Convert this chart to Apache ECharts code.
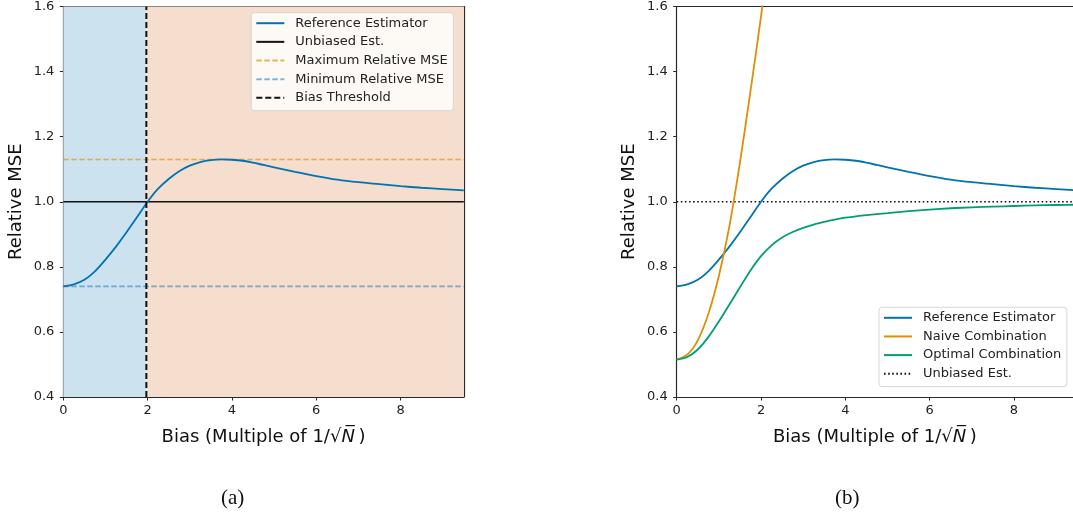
<!DOCTYPE html>
<html><head><meta charset="utf-8">
<script src="https://cdn.jsdelivr.net/npm/echarts@6/dist/echarts.min.js"></script>
<style>html,body{margin:0;padding:0;background:#fff}#c{width:1073px;height:516px}</style>
</head><body><div id="c"></div>
<script>
// ---- data ----
const biasX = [0,0.25,0.5,0.75,1,1.25,1.5,1.75,2,2.25,2.5,2.75,3,3.25,3.5,3.75,4,4.25,4.5,4.75,5,5.5,6,6.5,7,7.5,8,8.5,9,9.5];
const referenceMSE = [0.740,0.746,0.760,0.786,0.822,0.862,0.906,0.953,1.000,1.040,1.070,1.094,1.111,1.122,1.128,1.130,1.129,1.126,1.120,1.113,1.106,1.092,1.079,1.068,1.060,1.054,1.048,1.043,1.039,1.035];
const optimalMSE = [0.515,0.523,0.546,0.584,0.632,0.684,0.737,0.789,0.833,0.866,0.890,0.907,0.920,0.930,0.938,0.945,0.951,0.955,0.959,0.962,0.965,0.971,0.976,0.980,0.983,0.985,0.987,0.989,0.990,0.991];
const naiveX = [0,0.25,0.5,0.75,1,1.25,1.5,1.75,2,2.25];
const naiveMSE = [0.515,0.530,0.574,0.655,0.772,0.925,1.120,1.340,1.570,1.830];
const xTicks = [0,2,4,6,8];
const yTicks = [0.4,0.6,0.8,1.0,1.2,1.4,1.6];
const X_MIN = 0, X_MAX = 9.5, X_MAX_RIGHT = 9.4, Y_MIN = 0.4, Y_MAX = 1.6;
const unbiasedLevel = 1.0;
const maxRelativeMSE = 1.13;
const minRelativeMSE = 0.74;
const biasThreshold = 1.97;

// ---- helpers ----
const zip = (xs, ys) => xs.map((x, i) => [x, ys[i]]);
const FONT = 'DejaVu Sans';
const spine = {color:'#2a2a2a', width:1.2};
const xName = '{t|Bias (Multiple of 1/√}{n|N\u0305}{t|\u2009)}';

function xBottom(gi, max){
  return {type:'value', gridIndex:gi, min:X_MIN, max:max, position:'bottom',
    name:xName, nameLocation:'middle', nameGap:31,
    nameTextStyle:{fontFamily:FONT, fontSize:18, color:'#111',
      rich:{t:{fontFamily:FONT, fontSize:18, color:'#111'}, n:{fontFamily:FONT, fontSize:18, fontStyle:'italic', color:'#111'}}},
    axisLine:{show:true, onZero:false, lineStyle:spine},
    axisTick:{show:true, length:3.5, customValues:xTicks, lineStyle:{color:'#2a2a2a', width:1}},
    axisLabel:{customValues:xTicks, margin:7, fontFamily:FONT, fontSize:13, color:'#222'},
    splitLine:{show:false}};
}
function xTop(gi, max){
  return {type:'value', gridIndex:gi, min:X_MIN, max:max, position:'top',
    axisLine:{show:true, onZero:false, lineStyle:spine}, axisTick:{show:false}, axisLabel:{show:false}, splitLine:{show:false}};
}
function yLeft(gi){
  return {type:'value', gridIndex:gi, min:Y_MIN, max:Y_MAX, position:'left',
    name:'Relative MSE', nameLocation:'middle', nameGap:38,
    nameTextStyle:{fontFamily:FONT, fontSize:18, color:'#111'},
    axisLine:{show:true, onZero:false, lineStyle:spine},
    axisTick:{show:true, length:3.5, customValues:yTicks, lineStyle:{color:'#2a2a2a', width:1}},
    axisLabel:{customValues:yTicks, margin:9, fontFamily:FONT, fontSize:13, color:'#222', formatter:v=>Number(v).toFixed(1)},
    splitLine:{show:false}};
}
function yRight(gi, showLine){
  return {type:'value', gridIndex:gi, min:Y_MIN, max:Y_MAX, position:'right',
    axisLine:{show:showLine, onZero:false, lineStyle:spine}, axisTick:{show:false}, axisLabel:{show:false}, splitLine:{show:false}};
}
function legendBox(names, left, top){
  return {data:names, orient:'vertical', left:left, top:top, itemWidth:28, itemHeight:14, itemGap:5.65,
    padding:[4,5.6,6.4,4], backgroundColor:'rgba(255,255,255,0.8)', borderColor:'#d6d6d6', borderWidth:1, borderRadius:3,
    selectedMode:false,
    itemStyle:{color:'rgba(0,0,0,0)', borderWidth:0, opacity:0},
    textStyle:{fontFamily:FONT, fontSize:13, color:'#222', padding:[0,0,0,6]}};
}
const hline = (y, xmax) => [[X_MIN, y],[xmax, y]];

const chart = echarts.init(document.getElementById('c'), null, {renderer:'canvas'});
chart.setOption({
  animation:false,
  backgroundColor:'#fff',
  grid:[
    {left:63.3, top:6, width:400.5, height:391},
    {left:676.7, top:6, width:396.3, height:391}
  ],
  xAxis:[xBottom(0, X_MAX), xTop(0, X_MAX), xBottom(1, X_MAX_RIGHT), xTop(1, X_MAX_RIGHT)],
  yAxis:[yLeft(0), yRight(0, true), yLeft(1), yRight(1, false)],
  legend:[
    legendBox(['Reference Estimator','Unbiased Est.','Maximum Relative MSE','Minimum Relative MSE','Bias Threshold'], 251.3, 12.7),
    legendBox(['Reference Estimator','Naive Combination','Optimal Combination','Unbiased Est. '], 879, 307.3)
  ],
  graphic:[
    {type:'text', left:221, top:488, style:{text:'(a)', font:'21px "Liberation Serif", serif', fill:'#111'}},
    {type:'text', left:835, top:488, style:{text:'(b)', font:'21px "Liberation Serif", serif', fill:'#111'}}
  ],
  series:[
    {name:'bg', type:'line', xAxisIndex:0, yAxisIndex:0, data:[[X_MIN, Y_MIN]], symbol:'none', silent:true, z:0,
      lineStyle:{width:0},
      markArea:{silent:true, label:{show:false}, data:[
        [{xAxis:X_MIN, itemStyle:{color:'#cde2ef'}}, {xAxis:biasThreshold}],
        [{xAxis:biasThreshold, itemStyle:{color:'#f5dece'}}, {xAxis:X_MAX}]
      ]}},
    {name:'Unbiased Est.', type:'line', xAxisIndex:0, yAxisIndex:0, data:hline(unbiasedLevel, X_MAX), symbol:'none', z:2,
      lineStyle:{color:'#111', width:1.6}, itemStyle:{color:'#111'}},
    {name:'Maximum Relative MSE', type:'line', xAxisIndex:0, yAxisIndex:0, data:hline(maxRelativeMSE, X_MAX), symbol:'none', z:2,
      lineStyle:{color:'rgba(222,143,5,0.65)', width:1.6, type:[5.5,2.5]}, itemStyle:{color:'rgba(222,143,5,0.65)'}},
    {name:'Minimum Relative MSE', type:'line', xAxisIndex:0, yAxisIndex:0, data:hline(minRelativeMSE, X_MAX), symbol:'none', z:2,
      lineStyle:{color:'rgba(1,115,178,0.5)', width:1.6, type:[5.5,2.5]}, itemStyle:{color:'rgba(1,115,178,0.5)'}},
    {name:'Reference Estimator', type:'line', xAxisIndex:0, yAxisIndex:0, data:zip(biasX, referenceMSE), symbol:'none', smooth:0.3, z:4,
      lineStyle:{color:'#0173b2', width:1.8}, itemStyle:{color:'#0173b2'}},
    {name:'Bias Threshold', type:'line', xAxisIndex:0, yAxisIndex:0, data:[[biasThreshold, Y_MIN],[biasThreshold, Y_MAX]], symbol:'none', z:5,
      lineStyle:{color:'#111', width:2, type:[6,3]}, itemStyle:{color:'#111'}},

    {name:'Unbiased Est. ', type:'line', xAxisIndex:2, yAxisIndex:2, data:hline(unbiasedLevel, X_MAX), symbol:'none', z:2,
      lineStyle:{color:'#111', width:1.6, type:[1.6,2.5]}, itemStyle:{color:'#111'}},
    {name:'Reference Estimator', type:'line', xAxisIndex:2, yAxisIndex:2, data:zip(biasX, referenceMSE), symbol:'none', smooth:0.3, z:3,
      lineStyle:{color:'#0173b2', width:1.8}, itemStyle:{color:'#0173b2'}},
    {name:'Naive Combination', type:'line', xAxisIndex:2, yAxisIndex:2, data:zip(naiveX, naiveMSE), symbol:'none', smooth:0.3, z:3,
      lineStyle:{color:'#de8f05', width:1.8}, itemStyle:{color:'#de8f05'}},
    {name:'Optimal Combination', type:'line', xAxisIndex:2, yAxisIndex:2, data:zip(biasX, optimalMSE), symbol:'none', smooth:0.3, z:3,
      lineStyle:{color:'#029e73', width:1.8}, itemStyle:{color:'#029e73'}}
  ]
});
</script>
</body></html>
